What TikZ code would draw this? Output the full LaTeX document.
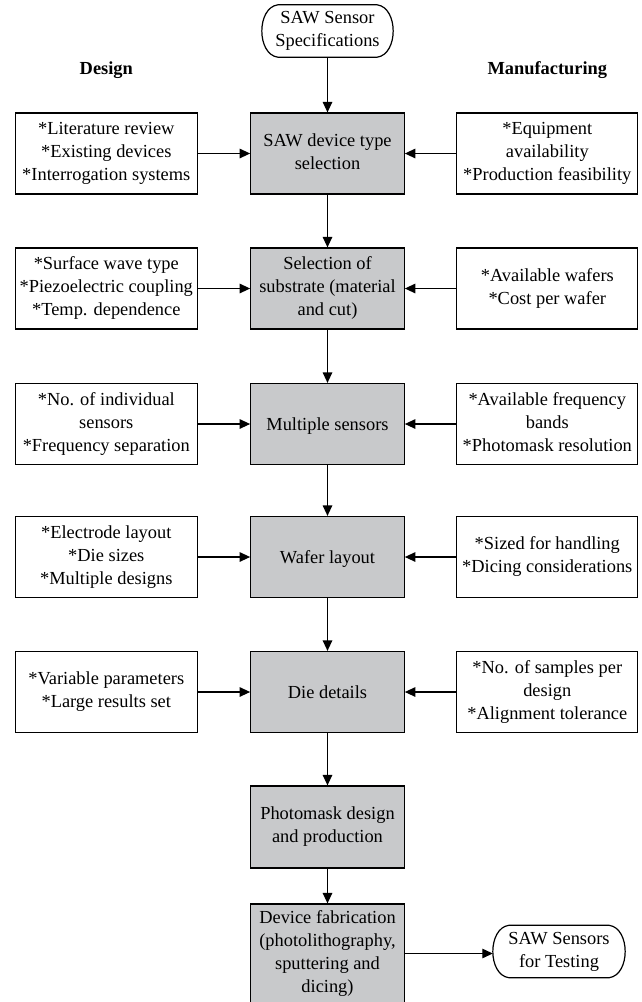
\documentclass[tikz,border=0pt]{standalone}
\usepackage{fontspec}
\setmainfont{Liberation Serif}
\usetikzlibrary{arrows.meta}
\definecolor{boxgray}{RGB}{200,201,203}
\newcommand{\topstrut}{\rule{0pt}{16.6pt}}
\newcommand{\botstrut}{\rule[-4pt]{0pt}{4pt}}
\begin{document}
\begin{tikzpicture}[x=1pt,y=-1pt,
  every node/.style={font=\fontsize{18.4}{23}\selectfont, align=center, inner sep=0pt,
    execute at begin node=\topstrut, execute at end node=\botstrut},
  side/.style={draw, line width=1.2pt, minimum width=182pt, minimum height=81pt},
  mainbox/.style={draw, line width=1.2pt, fill=boxgray, minimum width=153.5pt, minimum height=81pt},
  term/.style={minimum width=131pt, minimum height=52pt},
  outline/.style={line width=1.2pt},
  arr/.style={line width=1.2pt, -{Triangle[length=10.5pt,width=9.5pt]}},
  hdr/.style={font=\fontsize{18.4}{23}\selectfont\bfseries}]
\clip (0,0) rectangle (641,1002);
\useasboundingbox (0,0) rectangle (641,1002);

\node[term] (spec) at (327.5,31) {SAW Sensor\\Specifications};
\node[hdr] (design) at (106.3,68) {Design};
\node[hdr] (manuf) at (547.3,68) {Manufacturing};

% row 1
\node[side] (l1) at (106.3,153.5) {*Literature review\\*Existing devices\\*Interrogation systems};
\node[mainbox] (m1) at (327.5,153.5) {SAW device type\\selection};
\node[side, minimum width=181pt] (r1) at (547.3,153.5) {*Equipment\\availability\\*Production feasibility};
% row 2
\node[side] (l2) at (106.3,288.5) {*Surface wave type\\*Piezoelectric coupling\\*Temp. dependence};
\node[mainbox] (m2) at (327.5,288.5) {Selection of\\substrate (material\\and cut)};
\node[side, minimum width=181pt] (r2) at (547.3,288.5) {*Available wafers\\*Cost per wafer};
% row 3
\node[side] (l3) at (106.3,424) {*No. of individual\\sensors\\*Frequency separation};
\node[mainbox] (m3) at (327.5,424) {Multiple sensors};
\node[side, minimum width=181pt] (r3) at (547.3,424) {*Available frequency\\bands\\*Photomask resolution};
% row 4
\node[side] (l4) at (106.3,557) {*Electrode layout\\*Die sizes\\*Multiple designs};
\node[mainbox] (m4) at (327.5,557) {Wafer layout};
\node[side, minimum width=181pt] (r4) at (547.3,557) {*Sized for handling\\*Dicing considerations};
% row 5
\node[side] (l5) at (106.3,692) {*Variable parameters\\*Large results set};
\node[mainbox] (m5) at (327.5,692) {Die details};
\node[side, minimum width=181pt] (r5) at (547.3,692) {*No. of samples per\\design\\*Alignment tolerance};
% row 6
\node[mainbox, minimum height=82pt] (m6) at (327.5,827) {Photomask design\\and production};
% row 7
\node[mainbox, minimum height=99pt] (m7) at (327.5,953.5) {Device fabrication\\(photolithography,\\sputtering and\\dicing)};
\node[term, minimum width=132pt, minimum height=52pt] (out) at (559,951.5) {SAW Sensors\\for Testing};

% terminator outlines
\foreach \t in {spec,out}{
  \draw[outline] ([xshift=16pt]\t.north west) -- ([xshift=-16pt]\t.north east)
    .. controls ([xshift=5.3pt,yshift=-3pt]\t.north east) and ([xshift=5.3pt,yshift=3pt]\t.south east)
    .. ([xshift=-16pt]\t.south east) -- ([xshift=16pt]\t.south west)
    .. controls ([xshift=-5.3pt,yshift=3pt]\t.south west) and ([xshift=-5.3pt,yshift=-3pt]\t.north west)
    .. cycle;
}

% connectors
\draw[arr] (spec) -- (m1);
\draw[arr] (m1) -- (m2);
\draw[arr] (m2) -- (m3);
\draw[arr] (m3) -- (m4);
\draw[arr] (m4) -- (m5);
\draw[arr] (m5) -- (m6);
\draw[arr] (m6) -- (m7);
\foreach \i in {1,...,5}{
  \draw[arr] (l\i) -- (m\i);
  \draw[arr] (r\i) -- (m\i);
}
\draw[arr] (m7.east) -- (m7.east -| out.west);
\end{tikzpicture}
\end{document}
